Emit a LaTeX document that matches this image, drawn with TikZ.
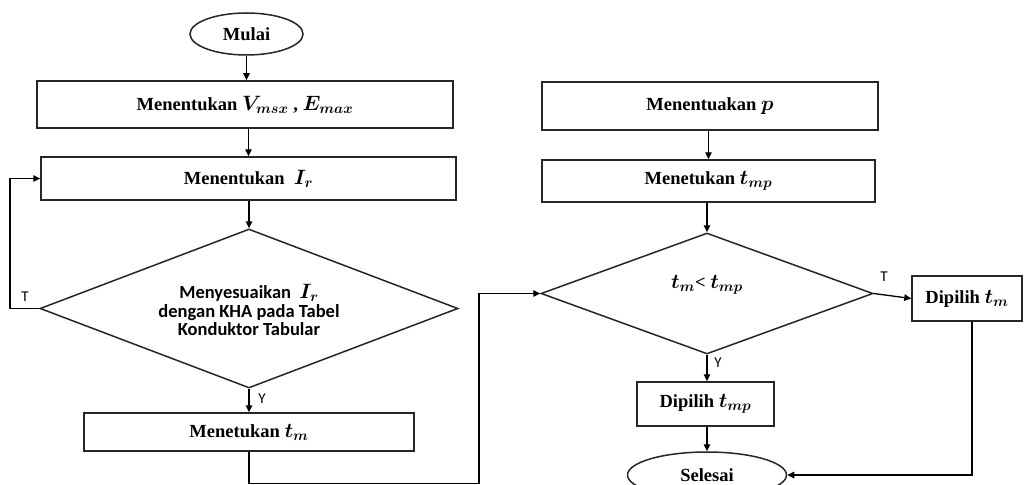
\documentclass[tikz,border=0pt]{standalone}
\usepackage{fontspec}
\usepackage{amsmath}
\setmainfont{Liberation Serif}
\newfontfamily\calib{Carlito}
\DeclareMathSizes{18.5}{20}{15}{12}
\usetikzlibrary{arrows.meta,shapes.geometric,calc}
\begin{document}
\begin{tikzpicture}[x=1pt,y=-1pt,
  line width=1.3pt,
  every node/.style={inner sep=0pt},
  box/.style={draw=black!85, line width=1.5pt, rectangle, font=\fontsize{18.5}{21}\selectfont\bfseries\boldmath},
  term/.style={draw=black!85, line width=1.5pt, ellipse, font=\fontsize{18.5}{21}\selectfont\bfseries},
  dec/.style={draw=black!85, line width=1.5pt, diamond},
  lab/.style={font=\calib\fontsize{15}{17}\selectfont},
  arr/.style={-{Triangle[length=7pt,width=6.5pt]}}
]
\useasboundingbox (0,0) rectangle (1024,484);
% left column
\node[term, minimum width=113pt, minimum height=42pt] (mulai) at (246.5,34) {Mulai};
\node[box, minimum width=416pt, minimum height=47pt] (b1) at (245,104.5) {Menentukan $V_{msx}$ , $E_{max}$};
\node[box, minimum width=415pt, minimum height=43pt] (b2) at (248.5,178.5) {Menentukan\ \ $I_r$};
\node[dec, minimum width=418pt, minimum height=159pt] (d1) at (249,308.5) {};
\node[align=center, font=\calib\bfseries\fontsize{18.5}{18.5}\selectfont\boldmath] (d1t) at (249,310) {Menyesuaikan\ \ $I_r$\\dengan KHA pada Tabel\\Konduktor Tabular};
\node[box, minimum width=330pt, minimum height=38pt] (b3) at (249,432) {Menetukan $t_m$};
% right column
\node[box, minimum width=336pt, minimum height=48pt] (b4) at (710,106) {Menentuakan $p$};
\node[box, minimum width=333pt, minimum height=42pt] (b5) at (708.5,181) {Menetukan $t_{mp}$};
\node[dec, minimum width=332pt, minimum height=121pt] (d2) at (707,293.5) {};
\node[font=\fontsize{18.5}{21}\selectfont\bfseries\boldmath] (d2t) at (707,285) {$t_m$< $t_{mp}$};
\node[box, minimum width=110pt, minimum height=45pt] (b6) at (967,298.5) {Dipilih $t_m$};
\node[box, minimum width=137pt, minimum height=44pt] (b7) at (705.5,404) {Dipilih $t_{mp}$};
\node[term, minimum width=159pt, minimum height=46pt] (sel) at (707,475) {Selesai};
\coordinate (loopx) at (10,0);
\coordinate (jx) at (479,0);
% connectors
\draw[arr] (mulai.south) -- (b1.north -| mulai.south);
\draw[arr] (b1.south -| b2.north) -- (b2.north);
\draw[arr] (b2.south -| d1.north) -- (d1.north);
\draw[arr] (d1.west) -- (d1.west -| loopx) |- (b2.west);
\node[lab] (lT1) at (25,297) {T};
\draw[arr] (d1.south) -- (b3.north -| d1.south);
\node[lab] (lY1) at (262,399) {Y};
\draw[arr] (b3.south) -- ++(0,31.5) -| (jx |- d2.west) -- (d2.west);
\draw[arr] (b4.south -| b5.north) -- (b5.north);
\draw[arr] (b5.south -| d2.north) -- (d2.north);
\draw[arr] (d2.east) -- (b6.west);
\node[lab] (lT2) at (884,277) {T};
\draw[arr] (d2.south) -- (b7.north -| d2.south);
\node[lab] (lY2) at (718,363) {Y};
\draw[arr] (b7.south -| sel.north) -- (sel.north);
\draw[arr] ([xshift=5pt]b6.south) -- ([xshift=5pt]b6.south |- sel.east) -- (sel.east);
\end{tikzpicture}
\end{document}
